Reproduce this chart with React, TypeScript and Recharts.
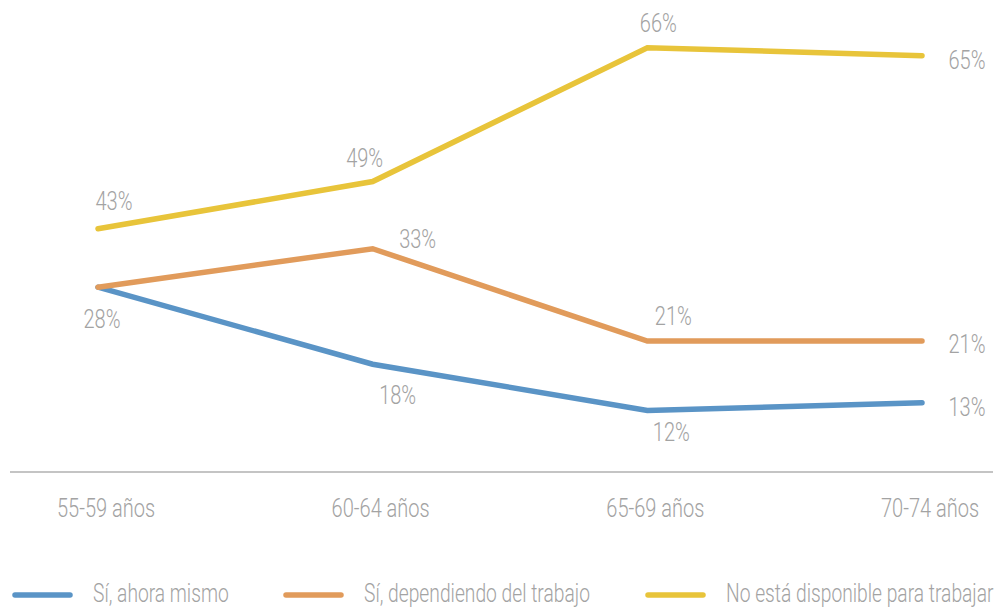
import { LineChart, Line, XAxis, YAxis, Legend, LabelList } from "recharts";

const CATEGORIES = ["55-59 años", "60-64 años", "65-69 años", "70-74 años"];
const AHORA = [28, 18, 12, 13];
const DEPENDIENDO = [28, 33, 21, 21];
const NO_DISPONIBLE = [43, 49, 66, 65];

const SERIES_NAMES = [
  "Sí, ahora mismo",
  "Sí, dependiendo del trabajo",
  "No está disponible para trabajar",
];

const BLUE = "#5a94c6";
const ORANGE = "#e19b5b";
const YELLOW = "#e8c43a";
const TEXT = "#a3a3a3";
const FONT = "Roboto, 'Liberation Sans', sans-serif";
const FONT_SIZE = 26;
// no condensed face installed, so squeeze the glyphs horizontally
const SQUEEZE = 0.77;

const data = CATEGORIES.map((c, i) => ({
  name: c,
  ahora: AHORA[i],
  dependiendo: DEPENDIENDO[i],
  noDisponible: NO_DISPONIBLE[i],
}));

// label offsets from the point to the centre of the text, hand placed like the original
const OFFSETS: Record<string, Array<[number, number] | null>> = {
  ahora: [[4, 32], [25, 31], [24, 22], [45, 4]],
  dependiendo: [null, [45, -10], [26, -25], [45, 3]],
  noDisponible: [[16, -28], [-8, -24], [11, -25], [45, 4]],
};

const LEGEND_X = [15, 286, 648];

function CondText({ x, y, anchor = "middle", baseline, squeeze = SQUEEZE, children }: any) {
  return (
    <text
      transform={`translate(${x},${y}) scale(${squeeze},1)`}
      textAnchor={anchor}
      dominantBaseline={baseline}
      fill={TEXT}
      fontSize={FONT_SIZE}
      fontWeight={300}
      fontFamily={FONT}
    >
      {children}
    </text>
  );
}

const makeLabel = (key: string) => (props: any) => {
  const { x, y, value, index } = props;
  const off = OFFSETS[key][index];
  if (!off) return null;
  return (
    <CondText x={x + off[0]} y={y + off[1]} baseline="central">
      {value}%
    </CondText>
  );
};

const AxisTick = (props: any) => {
  const { x, y, payload } = props;
  return (
    <CondText x={x + 8} y={y + 14}>
      {payload.value}
    </CondText>
  );
};

function LegendRow() {
  const colors = [BLUE, ORANGE, YELLOW];
  return (
    <svg width={1002} height={26} style={{ display: "block", overflow: "visible" }}>
      {SERIES_NAMES.map((n, i) => (
        <g key={n}>
          <line
            x1={LEGEND_X[i]}
            x2={LEGEND_X[i] + 55}
            y1={13}
            y2={13}
            stroke={colors[i]}
            strokeWidth={5.5}
            strokeLinecap="round"
          />
          <CondText x={LEGEND_X[i] + 78} y={20} anchor="start" squeeze={0.74}>
            {n}
          </CondText>
        </g>
      ))}
    </svg>
  );
}

export default function App() {
  return (
    <div style={{ position: "absolute", left: 0, top: 0 }}>
      <LineChart
        width={1002}
        height={608}
        data={data}
        margin={{ top: 10, right: 9, left: 10, bottom: 0 }}
      >
        <XAxis
          dataKey="name"
          axisLine={{ stroke: "#b0b0b0", strokeWidth: 1.5 }}
          tickLine={false}
          tickSize={0}
          tickMargin={31}
          height={110}
          padding={{ left: 88, right: 71 }}
          tick={<AxisTick />}
        />
        <YAxis yAxisId="left" hide domain={[4, 64]} allowDataOverflow />
        <YAxis yAxisId="right" hide domain={[12.1, 70.8]} allowDataOverflow orientation="right" />
        <Legend
          verticalAlign="bottom"
          wrapperStyle={{ left: 0, width: 1002, bottom: 0 }}
          content={() => <LegendRow />}
        />
        <Line
          yAxisId="left"
          dataKey="ahora"
          name={SERIES_NAMES[0]}
          stroke={BLUE}
          strokeWidth={5.5}
          strokeLinecap="round"
          dot={false}
          isAnimationActive={false}
        >
          <LabelList dataKey="ahora" content={makeLabel("ahora")} />
        </Line>
        <Line
          yAxisId="left"
          dataKey="dependiendo"
          name={SERIES_NAMES[1]}
          stroke={ORANGE}
          strokeWidth={5.5}
          strokeLinecap="round"
          dot={false}
          isAnimationActive={false}
        >
          <LabelList dataKey="dependiendo" content={makeLabel("dependiendo")} />
        </Line>
        <Line
          yAxisId="right"
          dataKey="noDisponible"
          name={SERIES_NAMES[2]}
          stroke={YELLOW}
          strokeWidth={5.5}
          strokeLinecap="round"
          dot={false}
          isAnimationActive={false}
        >
          <LabelList dataKey="noDisponible" content={makeLabel("noDisponible")} />
        </Line>
      </LineChart>
    </div>
  );
}
